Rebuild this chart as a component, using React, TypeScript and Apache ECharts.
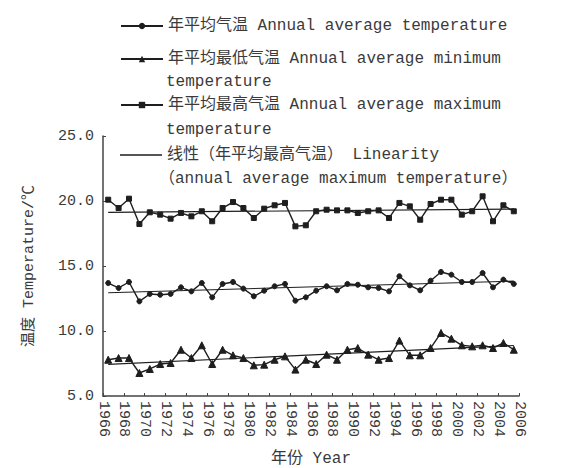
import React, { useEffect, useRef } from "react";
import * as echarts from "echarts";

// Years 1966-2005; each year's point sits in the middle of its interval on the axis
const years = [
  1966, 1967, 1968, 1969, 1970, 1971, 1972, 1973, 1974, 1975,
  1976, 1977, 1978, 1979, 1980, 1981, 1982, 1983, 1984, 1985,
  1986, 1987, 1988, 1989, 1990, 1991, 1992, 1993, 1994, 1995,
  1996, 1997, 1998, 1999, 2000, 2001, 2002, 2003, 2004, 2005,
];

const maxTemp = [
  20.1, 19.46, 20.18, 18.23, 19.13, 18.95, 18.64, 19.08, 18.82, 19.21,
  18.44, 19.46, 19.92, 19.46, 18.69, 19.41, 19.67, 19.85, 18.05, 18.13,
  19.21, 19.33, 19.28, 19.28, 19.08, 19.21, 19.28, 18.69, 19.85, 19.59,
  18.56, 19.77, 20.1, 20.1, 18.95, 19.21, 20.36, 18.44, 19.67, 19.21,
];

const avgTemp = [
  13.69, 13.31, 13.77, 12.28, 12.85, 12.79, 12.85, 13.36, 13.05, 13.69,
  12.59, 13.62, 13.77, 13.26, 12.67, 13.1, 13.44, 13.62, 12.33, 12.59,
  13.1, 13.44, 13.13, 13.62, 13.56, 13.36, 13.31, 13.05, 14.21, 13.51,
  13.13, 13.87, 14.54, 14.33, 13.77, 13.77, 14.46, 13.36, 13.95, 13.62,
];

const minTemp = [
  7.79, 7.92, 7.92, 6.77, 7.08, 7.46, 7.54, 8.56, 7.92, 8.9,
  7.46, 8.56, 8.13, 7.92, 7.36, 7.41, 7.79, 8.05, 7.03, 7.79,
  7.46, 8.18, 7.79, 8.56, 8.69, 8.18, 7.79, 7.92, 9.26, 8.13,
  8.13, 8.69, 9.85, 9.41, 8.9, 8.82, 8.9, 8.69, 9.08, 8.56,
];

const yTicks = [5, 10, 15, 20, 25];
const xRange = [1966, 2006];

const NAME_AVG = "年平均气温 Annual average temperature";
const NAME_MIN = "年平均最低气温 Annual average minimum";
const NAME_MAX = "年平均最高气温 Annual average maximum";
const NAME_LIN = "线性（年平均最高气温） Linearity";
const CONT_MIN = "temperature";
const CONT_MAX = "temperature";
const CONT_LIN = "（annual average maximum temperature）";
const X_NAME = "年份 Year";
const Y_NAME = "温度 Temperature/℃";

const FONT = '"Liberation Mono", "DejaVu Sans Mono", "Noto Sans CJK SC", monospace';
const INK = "#1e1e1e";
const TXT = "#3a3a3a";
const LFS = 16;

function pts(vals: number[]) {
  return years.map((y, i) => [y + 0.5, vals[i]]);
}

function trend(vals: number[]) {
  const xs = years.map((y) => y + 0.5);
  const n = xs.length;
  const mx = xs.reduce((a, b) => a + b, 0) / n;
  const my = vals.reduce((a, b) => a + b, 0) / n;
  let sxy = 0;
  let sxx = 0;
  for (let i = 0; i < n; i++) {
    sxy += (xs[i] - mx) * (vals[i] - my);
    sxx += (xs[i] - mx) * (xs[i] - mx);
  }
  const b = sxy / sxx;
  const a = my - b * mx;
  const x0 = xs[0];
  const x1 = xs[n - 1];
  return [
    [x0, a + b * x0],
    [x1, a + b * x1],
  ];
}

function legendFor(name: string, top: number, extra: any = {}) {
  return {
    data: [name],
    left: 107,
    top,
    itemWidth: 42,
    itemHeight: 8,
    selectedMode: false,
    textStyle: { fontSize: LFS, fontFamily: FONT, color: TXT },
    ...extra,
  };
}

export default function App() {
  const ref = useRef<HTMLDivElement>(null);

  useEffect(() => {
    if (!ref.current) return;
    const chart = echarts.init(ref.current, undefined, { renderer: "svg" });

    const dataLine = (name: string, vals: number[], symbol: string, size: number) => ({
      name,
      type: "line",
      data: pts(vals),
      symbol,
      symbolSize: size,
      showSymbol: true,
      z: 3,
      lineStyle: { color: INK, width: 1.4 },
      itemStyle: { color: INK, borderColor: INK },
    });

    const trendLine = (name: string, vals: number[]) => ({
      name,
      type: "line",
      data: trend(vals),
      symbol: "none",
      z: 2,
      lineStyle: { color: INK, width: 1.1 },
      itemStyle: { color: INK },
    });

    const contText = (text: string, left: number, top: number) => ({
      type: "text",
      left,
      top,
      style: { text, fontSize: LFS, fontFamily: FONT, fill: TXT },
    });

    chart.setOption({
      animation: false,
      backgroundColor: "#ffffff",
      grid: { left: 95, right: 77, top: 128, bottom: 80 },
      legend: [
        legendFor(NAME_AVG, 5),
        legendFor(NAME_MIN, 38),
        legendFor(NAME_MAX, 84),
        legendFor(NAME_LIN, 134, {
          data: [{ name: NAME_LIN, icon: "rect" }],
          itemHeight: 1.3,
        }),
      ],
      graphic: [
        contText(CONT_MIN, 158, 66),
        contText(CONT_MAX, 158, 114),
        contText(CONT_LIN, 151, 163),
      ],
      xAxis: {
        type: "value",
        min: xRange[0],
        max: xRange[1],
        interval: 2,
        name: X_NAME,
        nameLocation: "middle",
        nameGap: 55,
        nameTextStyle: { fontSize: 16, fontFamily: FONT, color: TXT },
        splitLine: { show: false },
        axisLine: { show: true, lineStyle: { color: "#444", width: 1.5 } },
        axisTick: { show: true, inside: true, length: 3, lineStyle: { color: "#444" } },
        axisLabel: {
          rotate: -90,
          margin: 5,
          fontSize: 15,
          fontFamily: FONT,
          color: TXT,
          formatter: (v: number) => String(v),
        },
      },
      yAxis: {
        type: "value",
        min: yTicks[0],
        max: yTicks[yTicks.length - 1],
        interval: 5,
        name: Y_NAME,
        nameLocation: "middle",
        nameRotate: 90,
        nameGap: 66,
        nameTextStyle: { fontSize: 15, fontFamily: FONT, color: TXT },
        splitLine: { show: false },
        axisLine: { show: true, lineStyle: { color: "#444", width: 1.5 } },
        axisTick: { show: true, inside: true, length: 3, lineStyle: { color: "#444" } },
        axisLabel: {
          margin: 9,
          fontSize: 15,
          fontFamily: FONT,
          color: TXT,
          formatter: (v: number) => v.toFixed(1),
        },
      },
      series: [
        dataLine(NAME_AVG, avgTemp, "circle", 5),
        dataLine(NAME_MIN, minTemp, "triangle", 7),
        dataLine(NAME_MAX, maxTemp, "rect", 5),
        trendLine(NAME_LIN, maxTemp),
        trendLine("趋势 avg", avgTemp),
        trendLine("趋势 min", minTemp),
      ],
    });

    return () => chart.dispose();
  }, []);

  return <div ref={ref} style={{ width: 588, height: 468 }} />;
}
